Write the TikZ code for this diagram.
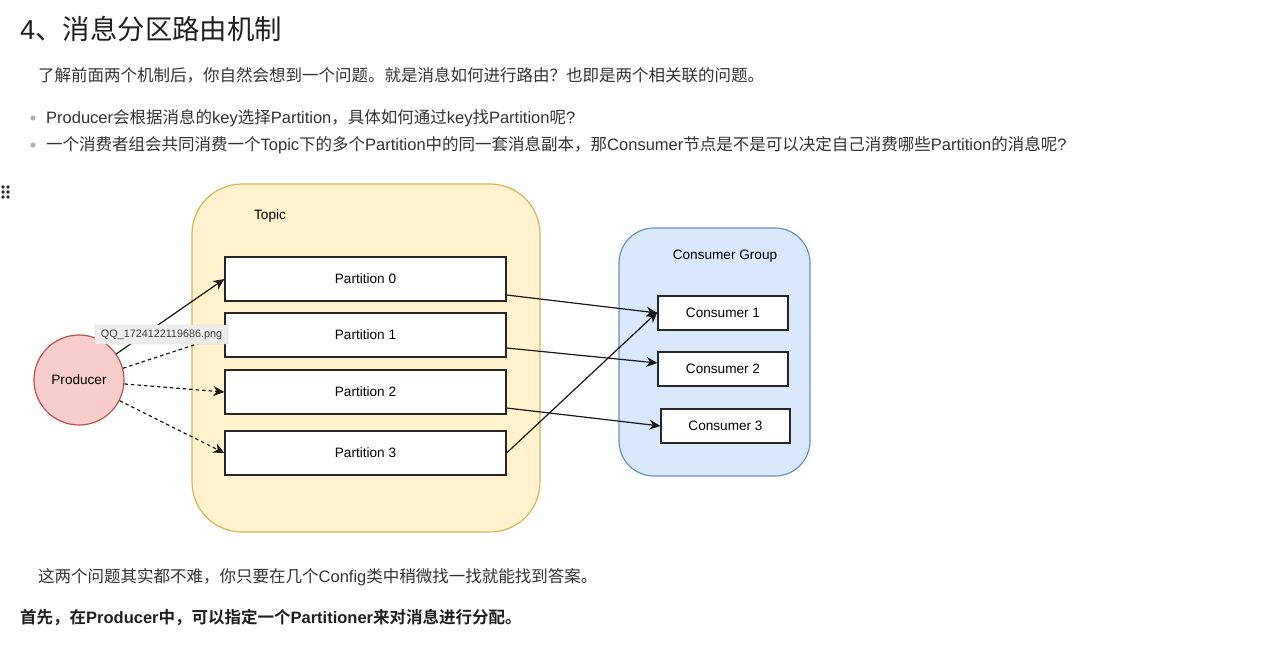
\documentclass[tikz,border=0pt]{standalone}
\usepackage{fontspec}
\setmainfont{Liberation Sans}
\newfontfamily\zhfont{Noto Sans CJK SC}[BoldFont={Noto Sans CJK SC Bold}]
\usetikzlibrary{arrows.meta,positioning}
\newcommand\zh[1]{{\zhfont #1}}
\definecolor{topicfill}{HTML}{FFF2CC}
\definecolor{topicline}{HTML}{D6B656}
\definecolor{groupfill}{HTML}{DAE8FC}
\definecolor{groupline}{HTML}{6C8EBF}
\definecolor{prodfill}{HTML}{F8CECC}
\definecolor{prodline}{HTML}{B85450}
\definecolor{bodygray}{HTML}{333333}
\definecolor{dotgray}{HTML}{A9AFBD}
\begin{document}
\begin{tikzpicture}[x=1pt, y=-1pt,
    txt/.style={anchor=base west, inner sep=0pt, text=bodygray, font=\fontsize{16.5}{20}\selectfont},
    part/.style={draw=black!85, fill=white, line width=1.2pt, minimum width=281pt, minimum height=44pt, font=\fontsize{13.6}{16}\selectfont},
    cons/.style={draw=black!85, fill=white, line width=1.2pt, minimum width=130pt, minimum height=34pt, font=\fontsize{13.6}{16}\selectfont},
    lbl/.style={inner sep=0pt, font=\fontsize{13.6}{16}\selectfont},
    link/.style={-{Stealth[length=11pt, width=10pt, inset=3.5pt]}, line width=1.2pt, black!90},
    maybe/.style={link, dash pattern=on 3.5pt off 3pt}]
    \fill[white] (0,0) rectangle (1274,647);
    \useasboundingbox (0,0) rectangle (1274,647);

    % text above the diagram
    \node[txt, text=black!88, font=\fontsize{27.4}{32}\selectfont] (title) at (20,40) {4\zh{、消息分区路由机制}};
    \node[txt] (intro) at (38,82) {\zh{了解前面两个机制后，你自然会想到一个问题。就是消息如何进行路由？也即是两个相关联的问题。}};
    \fill[dotgray] (33,118) circle (2.6);
    \node[txt] (q1) at (46,124) {Producer\zh{会根据消息的}key\zh{选择}Partition\zh{，具体如何通过}key\zh{找}Partition\zh{呢}?};
    \fill[dotgray] (33,145) circle (2.6);
    \node[txt] (q2) at (46,151) {\zh{一个消费者组会共同消费一个}Topic\zh{下的多个}Partition\zh{中的同一套消息副本，那}Consumer\zh{节点是不是可以决定自己消费哪些}Partition\zh{的消息呢}?};

    % drag handle
    \foreach \hx in {3,8} \foreach \hy in {187,192,197} \fill[black!85] (\hx,\hy) circle (1.9);

    % containers
    \node[draw=topicline, fill=topicfill, line width=1.2pt, rounded corners=50pt, minimum width=348pt, minimum height=348pt] (topic) at (366,358) {};
    \node[lbl] (topiclbl) at (270,216) {Topic};
    \node[draw=groupline, fill=groupfill, line width=1.2pt, rounded corners=35pt, minimum width=191pt, minimum height=248pt] (group) at (714.5,352) {};
    \node[lbl] (grouplbl) at (725,256) {Consumer Group};

    % partitions and consumers
    \node[part] (p0) at (365.5,279) {Partition 0};
    \node[part] (p1) at (365.5,335) {Partition 1};
    \node[part] (p2) at (365.5,392) {Partition 2};
    \node[part] (p3) at (365.5,453) {Partition 3};
    \node[cons] (c1) at (723,313) {Consumer 1};
    \node[cons] (c2) at (723,369) {Consumer 2};
    \node[cons, minimum width=129pt] (c3) at (725.5,426) {Consumer 3};
    \node[circle, draw=prodline, fill=prodfill, line width=1.2pt, minimum size=90pt, lbl] (prod) at (79,380) {Producer};

    % routes
    \draw[link] (prod.35) -- (p0.west);
    \draw[maybe] (prod.15) -- (p1.west);
    \draw[maybe] (prod.-5) -- (p2.west);
    \draw[maybe] (prod.-27) -- (p3.west);
    \draw[link] ([yshift=-16pt]p0.east) -- (c1.west);
    \draw[link] ([yshift=-13pt]p1.east) -- ([yshift=6pt]c2.west);
    \draw[link] ([yshift=-16pt]p2.east) -- (c3.west);
    \draw[link] (p3.east) -- ([yshift=1pt]c1.west);

    % file tooltip
    \node[draw=black!18, fill=black!7, rounded corners=1pt, minimum width=133pt, minimum height=19pt, inner sep=0pt, font=\fontsize{10.8}{12}\selectfont, text=black!75] (tip) at (161.5,334.5) {QQ\_1724122119686.png};

    % text below the diagram
    \node[txt] (answer) at (38,582) {\zh{这两个问题其实都不难，你只要在几个}Config\zh{类中稍微找一找就能找到答案。}};
    \node[txt, text=black!88, font=\fontsize{16.5}{20}\selectfont\bfseries] (first) at (20,623) {\zh{首先，在}Producer\zh{中，可以指定一个}Partitioner\zh{来对消息进行分配。}};
\end{tikzpicture}
\end{document}
